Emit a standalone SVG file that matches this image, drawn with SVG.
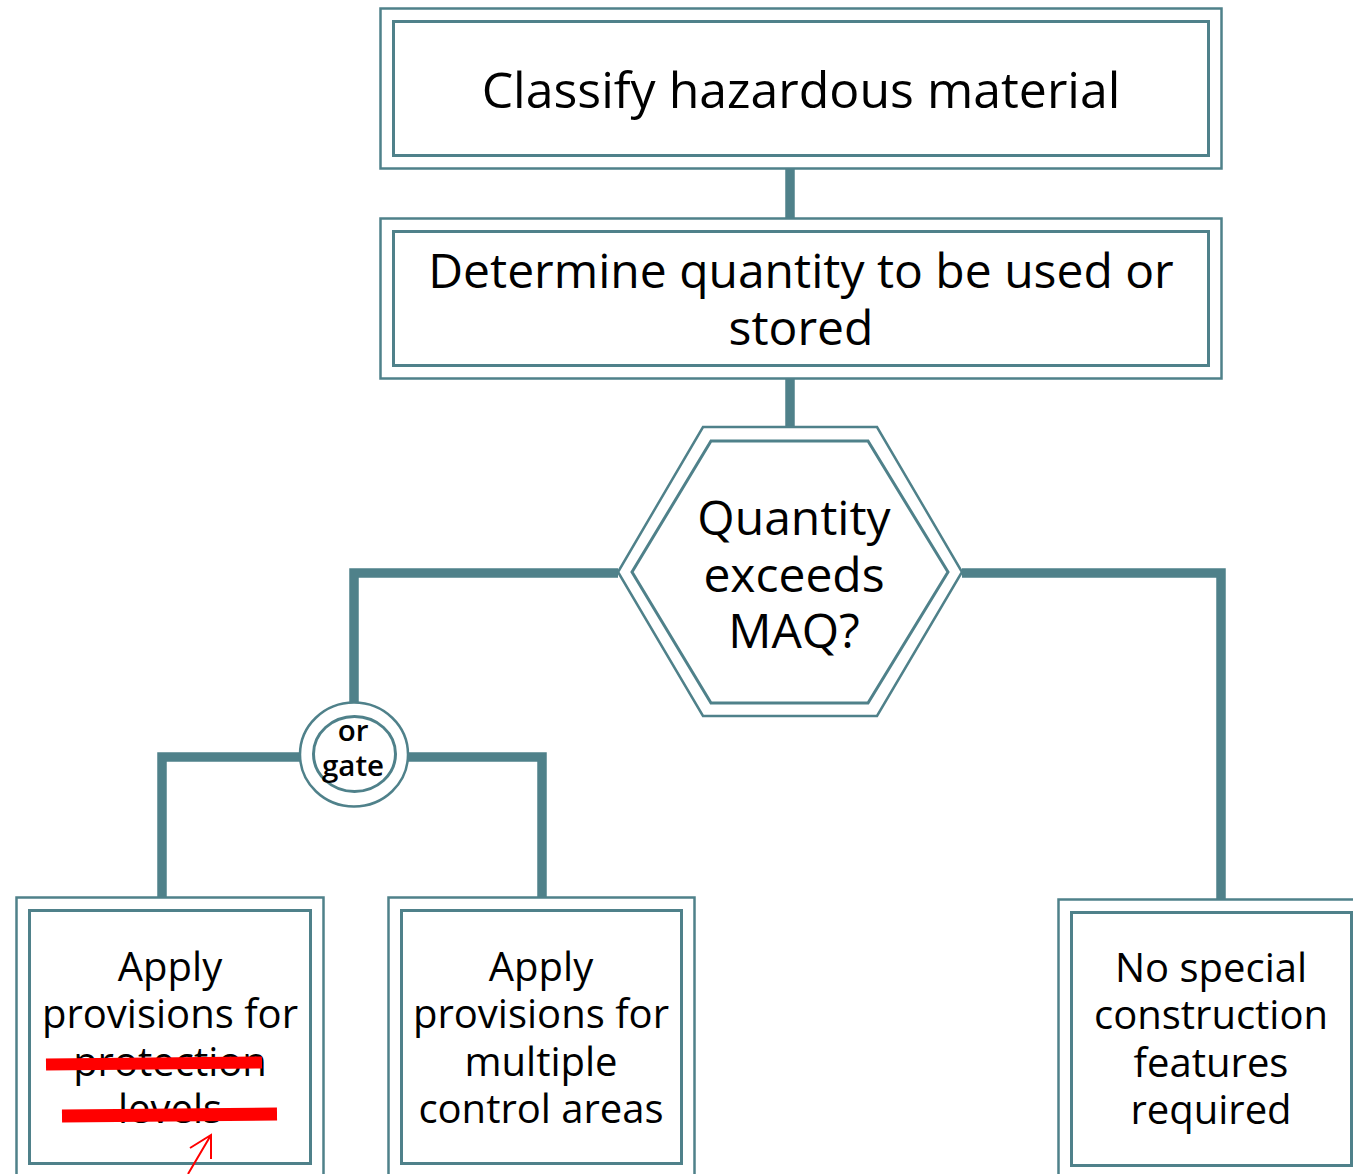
<svg xmlns="http://www.w3.org/2000/svg" width="1353" height="1174" viewBox="0 0 1353 1174">
<style>
.o{fill:none;stroke:#4f818a;stroke-width:2.5}
.i{fill:none;stroke:#4f818a;stroke-width:3}
.c{fill:none;stroke:#4f818a;stroke-width:9.5;stroke-linejoin:miter}
.t{font-family:"Open Sans","Noto Sans",sans-serif;fill:#000;text-anchor:middle}
.big{font-size:48px}
.mid{font-size:40px}
.g{font-size:29.5px;font-weight:600}
.red{stroke:#ff0000;fill:none}
</style>
<rect width="1353" height="1174" fill="#fff"/>
<g id="connectors">
<line class="c" x1="790" y1="169" x2="790" y2="218"/>
<line class="c" x1="790" y1="379" x2="790" y2="427"/>
<polyline class="c" points="618,573 354,573 354,702"/>
<polyline class="c" points="962,573 1221,573 1221,899"/>
<polyline class="c" points="300,757 162,757 162,897"/>
<polyline class="c" points="408,757 542,757 542,897"/>
</g>
<g id="classify">
<rect class="o" x="380.5" y="8.5" width="841" height="160"/>
<rect class="i" x="393.5" y="21.5" width="815" height="134"/>
<text class="t" style="font-size:50px" x="801" y="108">Classify hazardous material</text>
</g>
<g id="determine">
<rect class="o" x="380.5" y="218.5" width="841" height="160"/>
<rect class="i" x="393.5" y="231.5" width="815" height="134"/>
<text class="t big" x="801" y="288">Determine quantity to be used or</text>
<text class="t big" x="801" y="345">stored</text>
</g>
<g id="decision">
<polygon class="o" points="703,427 877,427 962,572 877,716 703,716 618,572"/>
<polygon class="i" points="711,441 868,441 948,572 868,703 711,703 632,572"/>
<text class="t big" x="794" y="535">Quantity</text>
<text class="t big" x="794" y="592">exceeds</text>
<text class="t big" x="794" y="648">MAQ?</text>
</g>
<g id="orgate">
<ellipse cx="354" cy="754.5" rx="54" ry="52" fill="#fff" stroke="#4f818a" stroke-width="2.5"/>
<ellipse cx="354.5" cy="754" rx="41" ry="37.5" class="i" stroke-width="2.5"/>
<text class="t g" x="353" y="741">or</text>
<text class="t g" x="353" y="776">gate</text>
</g>
<g id="protection">
<rect class="o" x="16.5" y="897.5" width="307" height="290"/>
<rect class="i" x="29.5" y="910.5" width="281" height="253"/>
<text class="t mid" x="170" y="981">Apply</text>
<text class="t mid" x="170" y="1028">provisions for</text>
<text class="t mid" x="170" y="1076">protection</text>
<text class="t mid" x="170" y="1123">levels</text>
<line class="red" x1="46" y1="1064.5" x2="262" y2="1062.5" stroke-width="12"/>
<line class="red" x1="62" y1="1116" x2="277" y2="1114" stroke-width="13"/>
<path class="red" stroke-width="2" d="M188,1174 L211,1135 M190,1148 L211,1135 L211,1159"/>
</g>
<g id="multiple">
<rect class="o" x="388.5" y="897.5" width="306" height="290"/>
<rect class="i" x="401.5" y="910.5" width="280" height="253"/>
<text class="t mid" x="541" y="981">Apply</text>
<text class="t mid" x="541" y="1028">provisions for</text>
<text class="t mid" x="541" y="1076">multiple</text>
<text class="t mid" x="541" y="1123">control areas</text>
</g>
<g id="nospecial">
<rect class="o" x="1058.5" y="899.5" width="310" height="290"/>
<rect class="i" x="1071.5" y="912.5" width="280" height="253"/>
<text class="t mid" x="1211" y="982">No special</text>
<text class="t mid" x="1211" y="1029">construction</text>
<text class="t mid" x="1211" y="1077">features</text>
<text class="t mid" x="1211" y="1124">required</text>
</g>
</svg>
